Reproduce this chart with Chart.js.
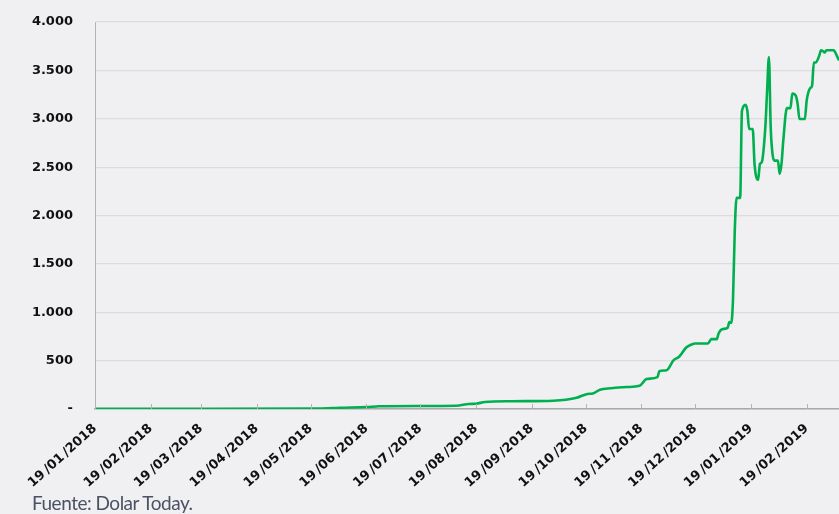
<!DOCTYPE html>
<html>
<head>
<meta charset="utf-8">
<script src="https://cdn.jsdelivr.net/npm/chart.js@4/dist/chart.umd.min.js"></script>
<style>
  html, body { margin: 0; padding: 0; background: #f0f0f2; }
  #wrap { position: relative; width: 839px; height: 514px; }
  #fuente {
    position: absolute; left: 32px; top: 491px;
    font-family: Lato, sans-serif; font-size: 19px; letter-spacing: -0.5px;
    color: #4b5263;
  }
</style>
</head>
<body>
<div id="wrap">
  <canvas id="chart" width="839" height="514"></canvas>
  <div id="fuente">Fuente: Dolar Today.</div>
</div>
<script>
// Fechas (dd/mm/aaaa) y valor del dólar paralelo
const fechas = [
  "19/01/2018", "15/03/2018", "24/05/2018", "04/06/2018", "19/06/2018",
  "26/06/2018", "19/07/2018", "08/08/2018", "15/08/2018", "19/08/2018",
  "24/08/2018", "08/09/2018", "01/10/2018", "08/10/2018", "14/10/2018",
  "20/10/2018", "23/10/2018", "27/10/2018", "02/11/2018", "11/11/2018",
  "18/11/2018", "22/11/2018", "28/11/2018", "29/11/2018", "03/12/2018",
  "07/12/2018", "10/12/2018", "14/12/2018", "17/12/2018", "19/12/2018",
  "26/12/2018", "28/12/2018", "31/12/2018", "01/01/2019", "03/01/2019",
  "06/01/2019", "07/01/2019", "08/01/2019", "09/01/2019", "10/01/2019",
  "11/01/2019", "13/01/2019", "14/01/2019", "16/01/2019", "17/01/2019",
  "18/01/2019", "20/01/2019", "21/01/2019", "23/01/2019", "24/01/2019",
  "25/01/2019", "27/01/2019", "28/01/2019", "29/01/2019", "30/01/2019",
  "31/01/2019", "01/02/2019", "03/02/2019", "04/02/2019", "05/02/2019",
  "06/02/2019", "08/02/2019", "10/02/2019", "11/02/2019", "13/02/2019",
  "14/02/2019", "15/02/2019", "18/02/2019", "19/02/2019", "21/02/2019",
  "22/02/2019", "23/02/2019", "24/02/2019", "26/02/2019", "27/02/2019",
  "28/02/2019", "01/03/2019", "02/03/2019", "06/03/2019", "07/03/2019",
  "09/03/2019", "10/03/2019"
];
const valores = [
  2, 3, 5, 13, 20,
  28, 31, 34, 52, 55,
  72, 80, 86, 96, 116,
  155, 160, 200, 215, 227,
  240, 310, 330, 390, 400,
  505, 540, 636, 667, 677,
  677, 722, 722, 780, 825,
  838, 900, 890, 1124, 1845,
  2182, 2182, 3083, 3144, 3083,
  2894, 2894, 2533, 2368, 2533,
  2550, 2911, 3289, 3639, 2911,
  2636, 2567, 2567, 2430, 2533,
  2773, 3110, 3110, 3261, 3237,
  3151, 2997, 2997, 3186, 3317,
  3340, 3581, 3581, 3650, 3708,
  3700, 3684, 3708, 3708, 3684,
  3605, 3598
];
// Etiquetas del eje X
const etiquetasX = [
  "19/01/2018", "19/02/2018", "19/03/2018", "19/04/2018", "19/05/2018",
  "19/06/2018", "19/07/2018", "19/08/2018", "19/09/2018", "19/10/2018",
  "19/11/2018", "19/12/2018", "19/01/2019", "19/02/2019"
];
const fechaFinal = "09/03/2019";

// días transcurridos desde el 19/01/2018
function diaDesde(s) {
  const [d, m, a] = s.split("/").map(Number);
  return Math.round((Date.UTC(a, m - 1, d) - Date.UTC(2018, 0, 19)) / 86400000);
}
function etiquetaDia(dia) {
  const f = new Date(Date.UTC(2018, 0, 19) + dia * 86400000);
  const dd = String(f.getUTCDate()).padStart(2, "0");
  const mm = String(f.getUTCMonth() + 1).padStart(2, "0");
  return dd + "\u2009/" + mm + "\u2009/" + f.getUTCFullYear();
}
function miles(v) {
  if (v === 0) return "-";
  return String(v).replace(/\B(?=(\d{3})+(?!\d))/g, ".");
}

const puntos = fechas.map((f, i) => ({ x: diaDesde(f), y: valores[i] }));

// Marcas cortas del eje X hacia dentro del gráfico
const marcasX = {
  id: "marcasX",
  afterDraw(chart) {
    const sx = chart.scales.x;
    const ctx = chart.ctx;
    const fondo = chart.chartArea.bottom;
    ctx.save();
    ctx.strokeStyle = "#b4b4b6";
    ctx.lineWidth = 1;
    sx.ticks.forEach(t => {
      const px = Math.round(sx.getPixelForValue(t.value)) + 0.5;
      ctx.beginPath();
      ctx.moveTo(px, fondo - 5);
      ctx.lineTo(px, fondo);
      ctx.stroke();
    });
    ctx.restore();
  }
};

const fuenteEjes = { family: "'DejaVu Sans', sans-serif", size: 13, weight: "bold" };

const ctx = document.getElementById("chart").getContext("2d");
new Chart(ctx, {
  type: "line",
  data: {
    datasets: [{
      data: puntos,
      borderColor: "#00b050",
      borderWidth: 2.6,
      pointRadius: 0,
      cubicInterpolationMode: "monotone",
      fill: false
    }]
  },
  options: {
    responsive: false,
    animation: false,
    layout: { padding: { top: 22, right: 0, left: 0, bottom: 0 } },
    plugins: { legend: { display: false }, tooltip: { enabled: false } },
    scales: {
      x: {
        type: "linear",
        min: 0,
        max: diaDesde(fechaFinal),
        afterBuildTicks: scale => {
          scale.ticks = etiquetasX.map(e => ({ value: diaDesde(e) }));
        },
        afterFit: scale => { scale.height = 105; },
        ticks: {
          autoSkip: false,
          minRotation: 42,
          maxRotation: 42,
          padding: 4,
          color: "#111111",
          font: fuenteEjes,
          callback: v => etiquetaDia(v)
        },
        grid: { display: false },
        border: { display: true, color: "#a8a8aa", width: 1.5 }
      },
      y: {
        min: 0,
        max: 4000,
        afterFit: scale => {
          scale.width = 95;
          scale.paddingTop = 0;
          scale.paddingBottom = 0;
        },
        ticks: {
          stepSize: 500,
          padding: 22,
          color: "#111111",
          font: fuenteEjes,
          callback: v => miles(v)
        },
        grid: { color: "#dcdcde", lineWidth: 1.2, drawTicks: false },
        border: { display: true, color: "#b4b4b6", width: 1 }
      }
    }
  },
  plugins: [marcasX]
});
</script>
</body>
</html>
